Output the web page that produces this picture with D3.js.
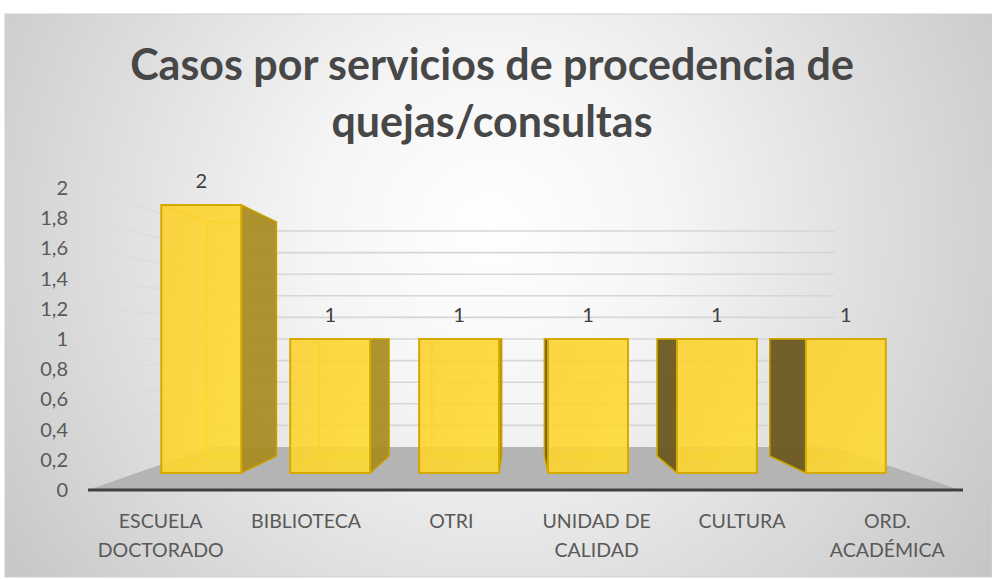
<!DOCTYPE html>
<html>
<head>
<meta charset="utf-8">
<script src="https://cdnjs.cloudflare.com/ajax/libs/d3/7.8.5/d3.min.js"></script>
<style>
  body { margin: 0; background: #fff; }
  svg { display: block; font-family: Lato, "Open Sans", sans-serif; }
</style>
</head>
<body>
<div id="chart"></div>
<script>
// data
var categories = ['ESCUELA DOCTORADO', 'BIBLIOTECA', 'OTRI', 'UNIDAD DE CALIDAD', 'CULTURA', 'ORD. ACADÉMICA'];
var labelLines = [['ESCUELA', 'DOCTORADO'], ['BIBLIOTECA'], ['OTRI'], ['UNIDAD DE', 'CALIDAD'], ['CULTURA'], ['ORD.', 'ACADÉMICA']];
var values = [2, 1, 1, 1, 1, 1];
var yTicks = [0, 0.2, 0.4, 0.6, 0.8, 1, 1.2, 1.4, 1.6, 1.8, 2];
var titleLines = ['Casos por servicios de procedencia de', 'quejas/consultas'];

var width = 992, height = 579;

// spanish number format, 1.8 -> 1,8
var es = d3.formatLocale({ decimal: ',', thousands: '.', grouping: [3], currency: ['', ' €'] });
var fmt = es.format('.1~f');

var svg = d3.select('#chart').append('svg')
    .attr('width', width)
    .attr('height', height);

var defs = svg.append('defs');

var bg = defs.append('radialGradient')
    .attr('id', 'bg')
    .attr('gradientUnits', 'userSpaceOnUse')
    .attr('cx', 490).attr('cy', 230).attr('r', 600);
bg.append('stop').attr('offset', '0').attr('stop-color', '#ffffff');
bg.append('stop').attr('offset', '0.3').attr('stop-color', '#f5f5f5');
bg.append('stop').attr('offset', '1').attr('stop-color', '#c6c6c6');

var sideGrid = defs.append('linearGradient')
    .attr('id', 'sideGrid')
    .attr('gradientUnits', 'userSpaceOnUse')
    .attr('x1', 88).attr('x2', 211).attr('y1', 0).attr('y2', 0);
sideGrid.append('stop').attr('offset', '0').attr('stop-color', '#d9d9d9').attr('stop-opacity', 0.25);
sideGrid.append('stop').attr('offset', '1').attr('stop-color', '#d9d9d9').attr('stop-opacity', 1);

var front = defs.append('linearGradient')
    .attr('id', 'front')
    .attr('x1', 0).attr('x2', 1).attr('y1', 0).attr('y2', 1);
front.append('stop').attr('offset', '0').attr('stop-color', '#fcd02a');
front.append('stop').attr('offset', '1').attr('stop-color', '#ffdc2e');

// chart area
svg.append('rect')
    .attr('x', 5).attr('y', 14)
    .attr('width', width - 5).attr('height', 563)
    .attr('fill', 'url(#bg)')
    .attr('stroke', '#d0d0d0');

// title
svg.append('g').selectAll('text')
    .data(titleLines)
    .enter().append('text')
    .attr('x', 492)
    .attr('y', function(d, i) { return 80 + i * 57; })
    .attr('text-anchor', 'middle')
    .attr('font-size', 43)
    .attr('font-weight', 'bold')
    .attr('fill', '#474747')
    .text(function(d) { return d; });

// scales on the front (label) plane
var x = d3.scaleBand().domain(categories).range([88, 960]);
var y = d3.scaleLinear().domain([0, 2]).range([490, 188]);

// simple perspective: vanishing point at eye level (value 1)
var vx = 520, vy = y(1);
var sWall = 0.715, sFront = 0.887, sBack = 0.775;

function proj(X, v, s) {
  return [vx + (X - vx) * s, vy + (y(v) - vy) * s];
}
function poly(pts) {
  return 'M' + pts.map(function(p) { return p[0] + ',' + p[1]; }).join('L') + 'Z';
}

var x0 = x.range()[0], x1 = x.range()[1];

// floor
svg.append('path')
    .attr('d', poly([proj(x0, 0, 1), proj(x1, 0, 1), proj(x1, 0, sWall), proj(x0, 0, sWall)]))
    .attr('fill', '#b4b4b4');

// gridlines: back wall and left side wall
var grid = svg.append('g').attr('class', 'grid');
grid.selectAll('.back')
    .data(yTicks.filter(function(d) { return d > 0; }))
    .enter().append('line')
    .attr('x1', function(d) { return proj(x0, d, sWall)[0]; })
    .attr('y1', function(d) { return proj(x0, d, sWall)[1]; })
    .attr('x2', function(d) { return proj(x1, d, sWall)[0]; })
    .attr('y2', function(d) { return proj(x1, d, sWall)[1]; })
    .attr('stroke', '#d6d6d6')
    .attr('stroke-width', 1.6);
grid.selectAll('.side')
    .data(yTicks.filter(function(d) { return d > 0; }))
    .enter().append('line')
    .attr('x1', function(d) { return proj(x0, d, 1)[0]; })
    .attr('y1', function(d) { return proj(x0, d, 1)[1]; })
    .attr('x2', function(d) { return proj(x0, d, sWall)[0]; })
    .attr('y2', function(d) { return proj(x0, d, sWall)[1]; })
    .attr('stroke', 'url(#sideGrid)')
    .attr('stroke-width', 1.6);

// axis line
svg.append('line')
    .attr('x1', x0).attr('x2', x1 + 3)
    .attr('y1', y(0)).attr('y2', y(0))
    .attr('stroke', '#404040')
    .attr('stroke-width', 3);

// y axis labels
var yAxis = svg.append('g')
    .attr('transform', 'translate(74,0)')
    .call(d3.axisLeft(y).tickValues(yTicks).tickFormat(fmt).tickSize(0).tickPadding(6));
yAxis.select('.domain').remove();
yAxis.selectAll('text')
    .attr('font-family', 'Lato, sans-serif')
    .attr('font-size', 20)
    .attr('fill', '#595959');

// bars
var bw = x.bandwidth() * 0.62;
var bars = svg.append('g').attr('class', 'bars')
    .selectAll('g')
    .data(categories)
    .enter().append('g');

bars.each(function(d, i) {
  var g = d3.select(this);
  var v = values[i];
  var L = x(d) + (x.bandwidth() - bw) / 2, R = L + bw;

  var fbl = proj(L, 0, sFront), fbr = proj(R, 0, sFront), ftr = proj(R, v, sFront), ftl = proj(L, v, sFront);
  var bbl = proj(L, 0, sBack), bbr = proj(R, 0, sBack), btr = proj(R, v, sBack), btl = proj(L, v, sBack);

  // inner edges seen through the front
  g.append('path')
      .attr('d', 'M' + fbl + 'L' + bbl + 'L' + bbr + 'M' + bbl + 'L' + btl + 'L' + btr + 'M' + ftl + 'L' + btl)
      .attr('fill', 'none')
      .attr('stroke', '#e8c000')
      .attr('stroke-width', 1.5)
      .attr('opacity', 0.8);

  // side face
  if (R < vx) {
    g.append('path')
        .attr('d', poly([fbr, bbr, btr, ftr]))
        .attr('fill', '#a88a1e')
        .attr('fill-opacity', 0.92)
        .attr('stroke', '#c9a000')
        .attr('stroke-width', 1.5);
  } else if (L > vx) {
    g.append('path')
        .attr('d', poly([fbl, bbl, btl, ftl]))
        .attr('fill', '#6a571e')
        .attr('fill-opacity', 0.94)
        .attr('stroke', '#c9a000')
        .attr('stroke-width', 1.5);
  }

  // front face
  g.append('path')
      .attr('d', poly([fbl, fbr, ftr, ftl]))
      .attr('fill', 'url(#front)')
      .attr('fill-opacity', 0.88)
      .attr('stroke', '#d4a900')
      .attr('stroke-width', 2);

  // value label
  g.append('text')
      .attr('x', (ftl[0] + ftr[0]) / 2)
      .attr('y', ftl[1] - 17)
      .attr('text-anchor', 'middle')
      .attr('font-size', 20)
      .attr('fill', '#404040')
      .text(fmt(v));
});

// x labels
var xl = svg.append('g').attr('class', 'x-labels')
    .selectAll('text')
    .data(categories)
    .enter().append('text')
    .attr('x', function(d) { return x(d) + x.bandwidth() / 2; })
    .attr('y', 528)
    .attr('text-anchor', 'middle')
    .attr('font-size', 19.5)
    .attr('fill', '#595959');

xl.selectAll('tspan')
    .data(function(d, i) { return labelLines[i]; })
    .enter().append('tspan')
    .attr('x', function() { return d3.select(this.parentNode).attr('x'); })
    .attr('dy', function(d, i) { return i === 0 ? 0 : 29; })
    .text(function(d) { return d; });
</script>
</body>
</html>
